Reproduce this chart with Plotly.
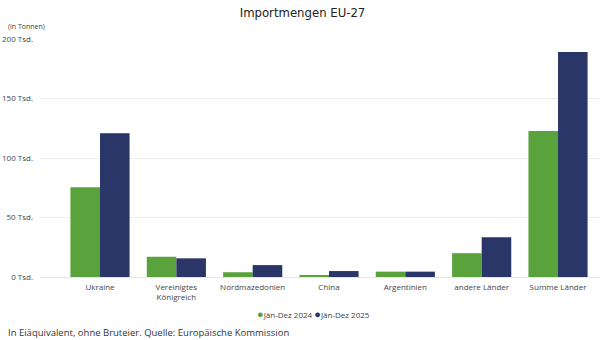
import plotly.graph_objects as go

categories = ["Ukraine", "Vereinigtes<br>Königreich", "Nordmazedonien", "China",
              "Argentinien", "andere Länder", "Summe Länder"]
values_2024 = [75.5, 17, 4, 1.7, 4.5, 20, 122.7]
values_2025 = [120.8, 15.7, 10, 5, 4.5, 33.5, 189]
series_names = ["Jän-Dez 2024", "Jän-Dez 2025"]
tick_vals = [0, 50, 100, 150, 200]
tick_text = ["0 Tsd.", "50 Tsd.", "100 Tsd.", "150 Tsd.", "200 Tsd."]

green = "#5AA33C"
navy = "#2B3668"
colors = [green, navy]
font_family = "Open Sans, Noto Sans, sans-serif"
xs = list(range(len(categories)))

fig = go.Figure()
for vals, name, col in zip([values_2024, values_2025], series_names, colors):
    fig.add_trace(go.Bar(x=xs, y=vals, name=name, showlegend=False,
                         marker=dict(color=col, line=dict(width=0))))

fig.update_layout(
    width=605, height=340,
    margin=dict(l=40, r=5, t=39, b=63, autoexpand=False),
    paper_bgcolor="white", plot_bgcolor="white",
    barmode="group", bargap=0.225, bargroupgap=0,
    font=dict(family=font_family, size=8, color="#444"),
    title=dict(text="Importmengen EU-27", x=0.5, xanchor="center", y=0.962, yanchor="middle",
               font=dict(size=13, color="#222", family="DejaVu Sans Condensed, Noto Sans, sans-serif")),
    showlegend=False,
    xaxis=dict(tickmode="array", tickvals=xs, ticktext=categories,
               range=[-0.786, 6.55], showgrid=False, zeroline=False, showline=False,
               ticks="", tickfont=dict(size=8, color="#444"), ticklabelstandoff=4),
    yaxis=dict(range=[0, 200], tickmode="array", tickvals=tick_vals, ticktext=tick_text,
               showgrid=True, gridcolor="#ECECEC", gridwidth=1, zeroline=True,
               zerolinecolor="#E6E6E6", zerolinewidth=1, showline=False, ticks="",
               tickfont=dict(size=8, color="#444"), ticklabelstandoff=6),
)

legend_text = "&nbsp;".join(
    f"<span style='color:{c};font-size:11px'>●</span>{n}" for n, c in zip(series_names, colors)
)
fig.add_annotation(text=legend_text, xref="paper", yref="paper", x=0.5, y=0,
                   xanchor="center", yanchor="middle", showarrow=False,
                   font=dict(size=8, color="#444"), xshift=-7, yshift=-36)

fig.add_annotation(text="(in Tonnen)", xref="paper", yref="paper", x=0, y=1,
                   xanchor="left", yanchor="middle", showarrow=False,
                   font=dict(size=7, color="#444"), xshift=-34, yshift=13)
fig.add_annotation(text="In Eiäquivalent, ohne Bruteier. Quelle: Europäische Kommission",
                   xref="paper", yref="paper", x=0, y=0, xanchor="left", yanchor="middle",
                   showarrow=False, font=dict(size=9.5, color="#333"),
                   xshift=-34, yshift=-55)

fig.write_html("out.html")
